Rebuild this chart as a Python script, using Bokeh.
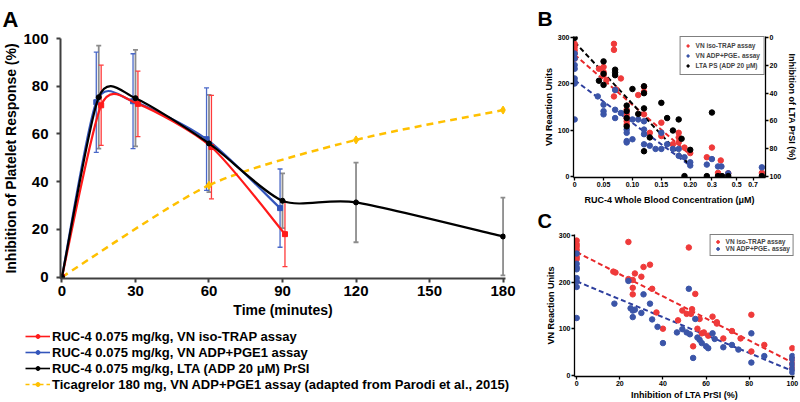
import numpy as np
from bokeh.plotting import figure
from bokeh.models import (ColumnDataSource, Range1d, LinearAxis, FixedTicker, Legend, LegendItem,
                          Whisker, TeeHead, LogScale, Title)
from bokeh.core.properties import value
from bokeh.layouts import row, column
from bokeh.embed import file_html
from bokeh.resources import INLINE

# ---------------- Panel A data ----------------
TIME_TICKS = [0, 30, 60, 90, 120, 150, 180]
A_Y_TICKS = [0, 20, 40, 60, 80, 100]

trap_t = [0, 16, 31, 61, 91]
trap_v = [0, 72, 72.6, 54.5, 18]
trap_sd = [0, 16.8, 13.7, 21.7, 13.6]

adp_t = [0, 14, 29, 59, 89]
adp_v = [0, 73.3, 73.7, 57.8, 28.9]
adp_sd = [0, 21, 19.9, 21.5, 16.4]

lta_t = [0, 15, 30, 60, 90, 120, 180]
lta_v = [0, 75.4, 75, 56, 32, 31.3, 17]
lta_sd = [0, 21.6, 20.2, 20.4, 11.5, 16.7, 16.3]

tica_t = [0, 60, 120, 180]
tica_v = [0, 38.5, 57.5, 70]

A_LABELS = ["RUC-4 0.075 mg/kg, VN iso-TRAP assay",
            "RUC-4 0.075 mg/kg, VN ADP+PGE1 assay",
            "RUC-4 0.075 mg/kg, LTA (ADP 20 \u03bcM) PrSI",
            "Ticagrelor 180 mg, VN ADP+PGE1 assay (adapted from Parodi et al., 2015)"]

# ---------------- Panel B data ----------------
B_LEFT_TICKS = [0, 100, 200, 300]
B_RIGHT_TICKS = [0, 20, 40, 60, 80, 100]
B_SEG1_TICKS = [0, 0.05, 0.1, 0.15, 0.2]
B_SEG1_LABELS = ["0", "0.05", "0.10", "0.15", "0.20"]
B_SEG2_TICKS = [0.3, 0.5, 0.7]
B_SEG2_LABELS = ["0.3", "0.5", "0.7"]

b_trap_c1 = [0, 0, 0, 0, 0, 0.042, 0.05, 0.05, 0.05, 0.055, 0.068, 0.068, 0.068, 0.072, 0.08,
             0.09, 0.09, 0.09, 0.09, 0.09, 0.11, 0.12, 0.12, 0.12, 0.13, 0.15, 0.15, 0.17,
             0.18, 0.18, 0.18, 0.19, 0.20]
b_trap_v1 = [287, 280, 273, 266, 255, 233, 237, 226, 219, 208, 287, 274, 173, 188, 212,
             144, 134, 126, 119, 112, 176, 194, 183, 134, 94, 116, 87, 69,
             94, 84, 73, 62, 50]
b_adp_c1 = [0, 0, 0, 0, 0, 0, 0, 0, 0.04, 0.05, 0.05, 0.05, 0.07, 0.07, 0.07, 0.08,
            0.09, 0.09, 0.09, 0.09, 0.10, 0.10, 0.11, 0.12, 0.12, 0.12, 0.12, 0.13, 0.14,
            0.15, 0.15, 0.16, 0.17, 0.18, 0.18, 0.19, 0.20, 0.20]
b_adp_v1 = [266, 255, 241, 233, 212, 205, 201, 123, 173, 155, 141, 134, 187, 144, 126, 137,
            101, 94, 76, 73, 123, 80, 123, 119, 101, 91, 69, 66, 59,
            94, 59, 69, 59, 59, 44, 41, 30, 23]
b_lta_c1 = [0, 0.042, 0.05, 0.05, 0.05, 0.07, 0.07, 0.07, 0.09, 0.09, 0.09, 0.09, 0.10, 0.11,
            0.12, 0.12, 0.12, 0.12, 0.13, 0.15, 0.16, 0.17, 0.18, 0.185, 0.19, 0.20]
b_lta_i1 = [0, 31, 17, 26, 34, 23, 25, 27, 49, 53, 58, 64, 37, 55,
            35, 40, 51, 82, 72, 47, 58, 67, 59, 73, 100, 81]

b_trap_c2 = [0.27, 0.30, 0.34, 0.36, 0.42, 0.84]
b_trap_v2 = [41, 62, 7, 34, 6, 7]
b_adp_c2 = [0.27, 0.30, 0.34, 0.365, 0.42, 0.84]
b_adp_v2 = [25, 37, 21, 21, 6, 19]
b_lta_c2 = [0.27, 0.30, 0.34, 0.37, 0.42, 0.84]
b_lta_i2 = [100, 54, 100, 100, 100, 100]

# linear fits: intercept, slope, x end
b_fit_trap = [263.5, -1087, 0.20]
b_fit_adp = [208, -927, 0.20]
b_fit_lta = [3, 447, 0.195]          # in % inhibition (right axis)

B_LEGEND = ["VN iso-TRAP assay", "VN ADP+PGE\u2081 assay", "LTA PS (ADP 20 \u03bcM)"]

# ---------------- Panel C data ----------------
C_X_TICKS = [0, 20, 40, 60, 80, 100]
C_Y_TICKS = [0, 100, 200, 300]

c_trap_x = [0, 0, 0, 0, 0, 0, 0, 24, 17, 18, 24, 26, 26, 26, 27, 30, 31, 34, 35, 37, 40,
            47, 49, 51, 52, 53, 53.5, 55, 54, 56, 57, 58, 59, 61, 63, 65, 65, 68, 72, 76,
            81, 81, 87, 100, 100, 100, 100]
c_trap_y = [290, 282, 277, 270, 262, 255, 250, 287, 223, 221, 207, 205, 174, 188, 219, 212,
            233, 238, 186, 135, 100, 118, 139, 132, 275, 132, 142, 175, 62, 100, 121, 90, 92,
            85, 126, 111, 114, 79, 95, 79, 130, 51, 65, 58, 35, 25, 15]
c_adp_x = [0, 0, 0, 0, 0, 0, 0, 0, 17.5, 24, 25, 26, 26, 27, 30, 31, 34, 35, 37.5, 40, 46.5,
           49, 51, 52.5, 52, 54, 55, 56, 57, 58, 60, 61, 63, 64, 68, 72, 75, 81, 81, 87,
           100, 100, 100, 100, 100]
c_adp_y = [262, 240, 232, 228, 209, 202, 190, 123, 154, 203, 144, 125, 139, 141, 134, 174,
           154, 120, 104, 69, 92, 99, 92, 88, 186, 37, 121, 81, 76, 69, 62, 58, 90, 78, 60,
           65, 55, 27, 90, 41, 41, 34, 23, 13, 6]
c_fit_trap = [265, -2.38, 100]
c_fit_adp = [202, -1.93, 100]
C_LEGEND = ["VN iso-TRAP assay", "VN ADP+PGE\u2081 assay"]

# ---------------- styles ----------------
RED_A, BLUE_A, BLACK, YELLOW, GRAY = "#ff1a1a", "#3355bb", "#000000", "#ffc000", "#8c8c8c"
RED_B, BLUE_B = "#ef3a3a", "#3b55a8"
AX = "#3f3f3f"
FONT = "Liberation Sans"
SMOOTH = 1 / 8          # tension of the smoothed (spline-like) lines in panel A


def bezier_src(xs, ys):
    """Smoothed line: cubic Bezier pieces through the data points."""
    x = np.asarray(xs, float)
    y = np.asarray(ys, float)
    n = len(x)
    xp = np.concatenate([[x[0]], x, [x[-1]]])
    yp = np.concatenate([[y[0]], y, [y[-1]]])
    return ColumnDataSource(dict(
        x0=xp[1:n], y0=yp[1:n], x1=xp[2:n + 1], y1=yp[2:n + 1],
        cx0=xp[1:n] + (xp[2:n + 1] - xp[0:n - 1]) * SMOOTH,
        cy0=yp[1:n] + (yp[2:n + 1] - yp[0:n - 1]) * SMOOTH,
        cx1=xp[2:n + 1] - (xp[3:n + 2] - xp[1:n]) * SMOOTH,
        cy1=yp[2:n + 1] - (yp[3:n + 2] - yp[1:n]) * SMOOTH))


def style_axis(ax, size, label_size, tick_out, lw, color, standoff, label_standoff):
    ax.axis_line_color = color
    ax.axis_line_width = lw
    ax.major_tick_line_color = color
    ax.major_tick_line_width = lw
    ax.major_tick_out = tick_out
    ax.major_tick_in = 0
    ax.minor_tick_line_color = None
    ax.major_label_text_font = FONT
    ax.major_label_text_font_style = "bold"
    ax.major_label_text_font_size = size
    ax.major_label_text_color = "black"
    ax.major_label_standoff = standoff
    ax.axis_label_text_font = FONT
    ax.axis_label_text_font_style = "bold"
    ax.axis_label_text_font_size = label_size
    ax.axis_label_text_color = "black"
    ax.axis_label_standoff = label_standoff


def base_fig(**kw):
    p = figure(output_backend="svg", toolbar_location=None, frame_align=False, **kw)
    p.xgrid.visible = False
    p.ygrid.visible = False
    p.outline_line_color = None
    p.background_fill_color = "white"
    p.border_fill_color = "white"
    return p


def panel_title(p, text, offset, size, standoff):
    p.title = Title(text=text, align="left", offset=offset, vertical_align="top",
                    standoff=standoff, text_font=FONT, text_font_style="bold",
                    text_font_size=size, text_color="black")


# ================= Panel A =================
pA = base_fig(width=520, height=328, x_range=Range1d(-0.6, 181), y_range=Range1d(-0.6, 100),
              min_border_left=60, min_border_right=15, min_border_top=38, min_border_bottom=50)
style_axis(pA.xaxis[0], "15px", "14px", 4, 2, AX, 3, 3)
style_axis(pA.yaxis[0], "15px", "14px", 4, 2, AX, 8, 1)
pA.xaxis.ticker = FixedTicker(ticks=TIME_TICKS)
pA.yaxis.ticker = FixedTicker(ticks=A_Y_TICKS)
pA.xaxis.axis_label = "Time (minutes)"
pA.yaxis.axis_label = "Inhibition of Platelet Response (%)"
panel_title(pA, "A", -58, "22px", 10)


def add_err(p, t, v, sd, color, lw):
    src = ColumnDataSource(dict(x=t[1:], lo=[a - b for a, b in zip(v[1:], sd[1:])],
                                up=[a + b for a, b in zip(v[1:], sd[1:])]))
    p.add_layout(Whisker(source=src, base="x", lower="lo", upper="up", line_color=color,
                         line_width=lw,
                         upper_head=TeeHead(size=5, line_color=color, line_width=lw),
                         lower_head=TeeHead(size=5, line_color=color, line_width=lw)))


add_err(pA, lta_t, lta_v, lta_sd, GRAY, 1.8)
add_err(pA, adp_t, adp_v, adp_sd, "#4a68c8", 1.3)
add_err(pA, trap_t, trap_v, trap_sd, "#ff3b3b", 1.3)

SERIES_A = [(trap_t, trap_v, RED_A, "square", "solid"),
            (adp_t, adp_v, BLUE_A, "square", "solid"),
            (lta_t, lta_v, BLACK, "circle", "solid"),
            (tica_t, tica_v, YELLOW, "diamond", "7 5")]

pA.bezier(source=bezier_src(tica_t, tica_v), x0="x0", y0="y0", x1="x1", y1="y1",
          cx0="cx0", cy0="cy0", cx1="cx1", cy1="cy1", line_color=YELLOW, line_width=2.5,
          line_dash="7 5")
pA.scatter(tica_t, tica_v, marker="diamond", size=8, color=YELLOW)
for t, v, c, m, d in [SERIES_A[1], SERIES_A[0], SERIES_A[2]]:
    pA.bezier(source=bezier_src(t, v), x0="x0", y0="y0", x1="x1", y1="y1",
              cx0="cx0", cy0="cy0", cx1="cx1", cy1="cy1", line_color=c, line_width=2.2)
    pA.scatter(t, v, marker=m, size=5, color=c)

# legend strip of panel A (its own small canvas, below the plot).  The series are drawn
# again here only as legend proxies: the strip's y range lies far above the data, so the
# proxies themselves stay out of view and only their legend glyphs appear.
pL = base_fig(width=520, height=74, x_range=Range1d(0, 1), y_range=Range1d(1000, 1001),
              x_axis_location=None, y_axis_location=None, min_border=0)
items = []
for lab, (t, v, c, m, d) in zip(A_LABELS, SERIES_A):
    lr = pL.line(t, v, line_color=c, line_width=1.6, line_dash=("4 3" if d != "solid" else d))
    sr = pL.scatter(t, v, marker="circle", size=4, color=c)
    items.append(LegendItem(label=value(lab), renderers=[lr, sr]))
legA = Legend(items=items, location=(25, 10), orientation="vertical",
              border_line_color=None, background_fill_alpha=0, padding=0, margin=0,
              spacing=0, glyph_width=25, glyph_height=10, label_height=16, label_standoff=2,
              label_text_font=FONT, label_text_font_style="bold", label_text_font_size="13px",
              label_text_color="black")
pL.add_layout(legA)

# ================= Panel B =================
X0B, X1B = -0.002, 0.3302
ANCHOR_U, U_PER_E = 0.2375, 0.0839   # where 0.3 sits on the linear part; width of one e-fold
c_left = 0.3 * np.exp((X0B - ANCHOR_U) / U_PER_E)
c_right = 0.3 * np.exp((X1B - ANCHOR_U) / U_PER_E)

pB = base_fig(width=280, height=207, x_range=Range1d(X0B, X1B), y_range=Range1d(-3, 303),
              min_border_left=53, min_border_right=33, min_border_top=36, min_border_bottom=28)
pB.extra_y_ranges = {"inh": Range1d(start=101, end=-1)}
pB.extra_x_ranges = {"seg2": Range1d(start=c_left, end=c_right)}
pB.extra_x_scales = {"seg2": LogScale()}
panel_title(pB, "B", -36, "21px", 9)

seg2_pos = [float(ANCHOR_U + U_PER_E * np.log(c / 0.3)) for c in B_SEG2_TICKS]
style_axis(pB.xaxis[0], "7px", "9px", 3, 1.3, "black", 1, 5)
style_axis(pB.yaxis[0], "7px", "9px", 3, 1.3, "black", 1, 1)
pB.xaxis.ticker = FixedTicker(ticks=B_SEG1_TICKS + seg2_pos)
ov = {t: l for t, l in zip(B_SEG1_TICKS, B_SEG1_LABELS)}
ov.update({t: l for t, l in zip(seg2_pos, B_SEG2_LABELS)})
pB.xaxis.major_label_overrides = ov
pB.yaxis.ticker = FixedTicker(ticks=B_LEFT_TICKS)
pB.xaxis.axis_label = "RUC-4 Whole Blood Concentration (\u03bcM)"
pB.yaxis.axis_label = "VN Reaction Units"
rax = LinearAxis(y_range_name="inh", ticker=FixedTicker(ticks=B_RIGHT_TICKS),
                 axis_label="Inhibition of LTA PrSI (%)")
style_axis(rax, "7px", "9px", 3, 1.3, "black", 1, 3)
pB.add_layout(rax, "right")

for fit, c, rng in [(b_fit_trap, "#e8282a", "default"), (b_fit_adp, "#2e3f9e", "default"),
                    (b_fit_lta, "black", "inh")]:
    xs = [0, fit[2]]
    pB.line(xs, [fit[0] + fit[1] * x for x in xs], line_color=c, line_width=2,
            line_dash="5 3", y_range_name=rng)

rt = pB.scatter(b_trap_c1, b_trap_v1, size=5.5, color=RED_B)
ra = pB.scatter(b_adp_c1, b_adp_v1, size=5.5, color=BLUE_B)
rl = pB.scatter(b_lta_c1, b_lta_i1, size=5.5, color=BLACK, y_range_name="inh")
pB.scatter(b_trap_c2, b_trap_v2, size=5.5, color=RED_B, x_range_name="seg2")
pB.scatter(b_adp_c2, b_adp_v2, size=5.5, color=BLUE_B, x_range_name="seg2")
pB.scatter(b_lta_c2, b_lta_i2, size=5.5, color=BLACK, x_range_name="seg2", y_range_name="inh")

legB = Legend(items=[LegendItem(label=value(l), renderers=[r]) for l, r in
                     zip(B_LEGEND, [rt, ra, rl])],
              location="top_right", margin=0, padding=4, spacing=1, glyph_width=6,
              glyph_height=9, label_height=9, label_standoff=5, border_line_color="black",
              border_line_width=1.2, background_fill_color="white",
              label_text_font=FONT, label_text_font_style="bold", label_text_font_size="6.5px")
pB.add_layout(legB)

# ================= Panel C =================
pC = base_fig(width=280, height=195, x_range=Range1d(-1, 101), y_range=Range1d(-3, 303),
              min_border_left=54, min_border_right=6, min_border_top=27, min_border_bottom=23)
panel_title(pC, "C", -37, "20px", 2)
style_axis(pC.xaxis[0], "7px", "9px", 3, 1.3, "black", 1, 1)
style_axis(pC.yaxis[0], "7px", "9px", 3, 1.3, "black", 1, 0)
pC.xaxis.ticker = FixedTicker(ticks=C_X_TICKS)
pC.yaxis.ticker = FixedTicker(ticks=C_Y_TICKS)
pC.xaxis.axis_label = "Inhibition of LTA PrSI (%)"
pC.yaxis.axis_label = "VN Reaction Units"
for fit, c in [(c_fit_trap, "#e8282a"), (c_fit_adp, "#2e3f9e")]:
    xs = [0, fit[2]]
    pC.line(xs, [fit[0] + fit[1] * x for x in xs], line_color=c, line_width=2, line_dash="5 3")
ct = pC.scatter(c_trap_x, c_trap_y, size=5.5, color=RED_B)
ca = pC.scatter(c_adp_x, c_adp_y, size=5.5, color=BLUE_B)
legC = Legend(items=[LegendItem(label=value(l), renderers=[r]) for l, r in
                     zip(C_LEGEND, [ct, ca])],
              location="top_right", margin=0, padding=3, spacing=0, glyph_width=8,
              glyph_height=7, label_height=7, label_standoff=4, border_line_color="black",
              border_line_width=1.2, background_fill_color="white",
              label_text_font=FONT, label_text_font_style="bold", label_text_font_size="6.5px")
pC.add_layout(legC)

layout = row(column(pA, pL), column(pB, pC))
open("out.html", "w").write(file_html(layout, INLINE))
